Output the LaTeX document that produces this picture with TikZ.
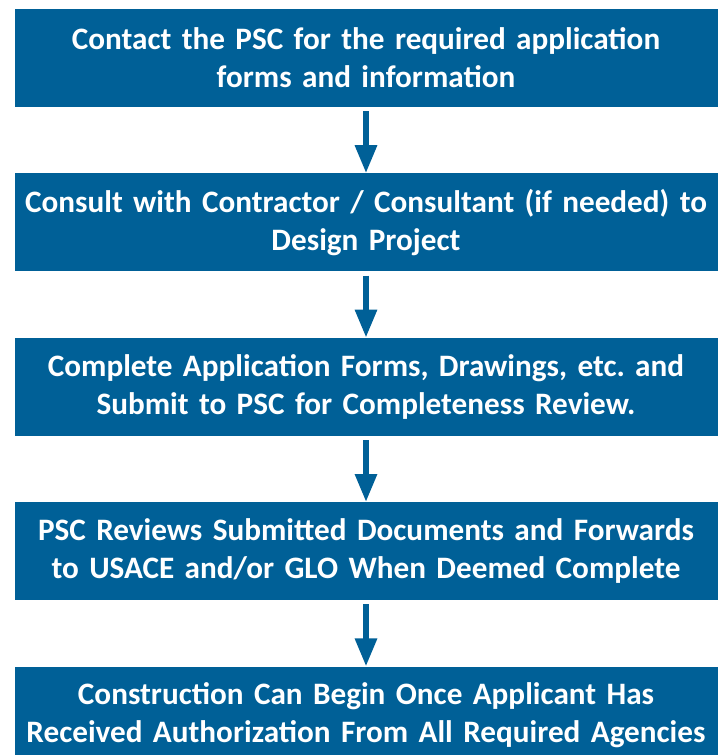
\documentclass[tikz,border=0pt]{standalone}
\usepackage{fontspec}
\setmainfont{Carlito}[WordSpace=0.7]
\frenchspacing
\usepackage{tikz}
\usetikzlibrary{arrows.meta,positioning}
\definecolor{pscblue}{RGB}{0,96,151}

\begin{document}
\begin{tikzpicture}[
  stepbox/.style={fill=pscblue, text=white, minimum width=703pt, minimum height=98pt,
    text width=703pt, align=center, inner sep=0pt,
    font=\fontsize{31.2}{38}\selectfont\bfseries},
  flowarrow/.style={draw=pscblue, line width=6pt, -{Triangle[width=21pt,length=28pt]}},
  node distance=66pt]
\useasboundingbox (0,0) rectangle (721pt,-755pt);
\clip (0,0) rectangle (721pt,-755pt);
\node[stepbox] (contact) at (366pt,-58pt) {Contact the PSC for the required application\\forms and information};
\node[stepbox, below=of contact] (consult) {Consult with Contractor / Consultant (if needed) to\\Design Project};
\node[stepbox, below=of consult] (complete) {Complete Application Forms, Drawings, etc. and\\Submit to PSC for Completeness Review.};
\node[stepbox, below=of complete] (review) {PSC Reviews Submitted Documents and Forwards\\to USACE and/or GLO When Deemed Complete};
\node[stepbox, below=of review] (begin) {Construction Can Begin Once Applicant Has\\Received Authorization From All Required Agencies};
\foreach \a/\b in {contact/consult, consult/complete, complete/review, review/begin}
  \draw[flowarrow] ([yshift=-4pt]\a.south) -- (\b.north);
\end{tikzpicture}
\end{document}
